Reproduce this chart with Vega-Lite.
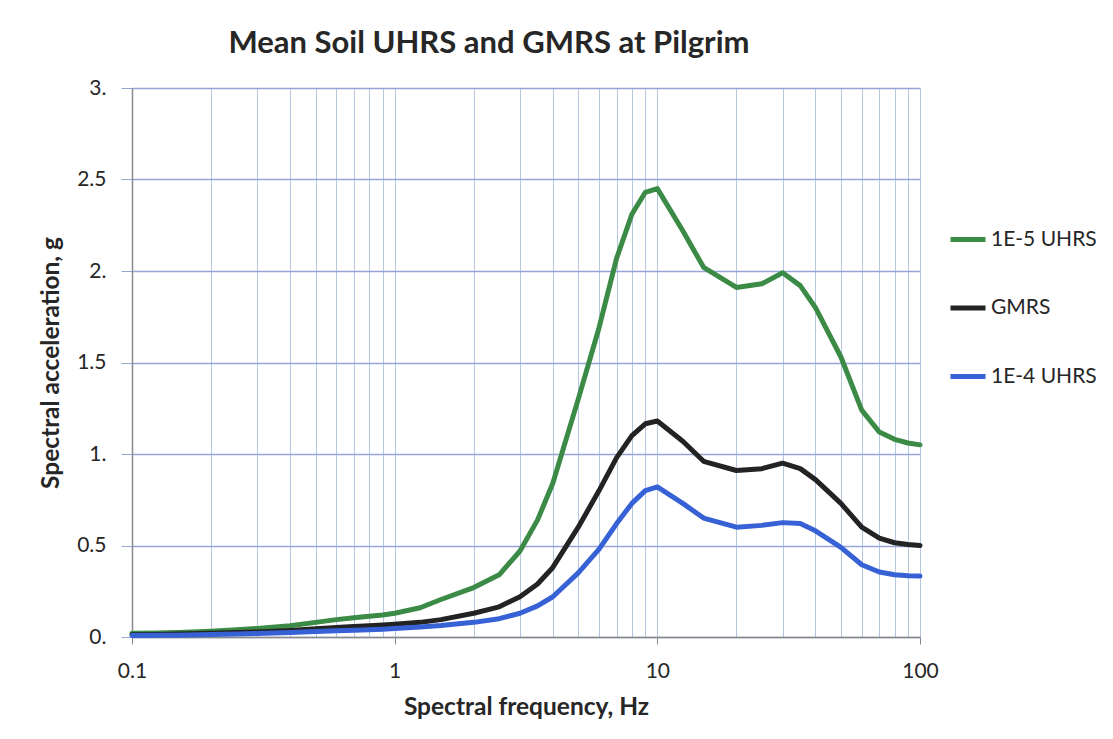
{
  "$schema": "https://vega.github.io/schema/vega-lite/v6.json",
  "autosize": {"type": "none"},
  "padding": {"left": 132, "top": 88, "right": 193, "bottom": 102},
  "width": 788,
  "height": 549,
  "background": "white",
  "config": {
    "font": "Lato",
    "view": {"stroke": null}
  },
  "title": {
    "text": "Mean Soil UHRS and GMRS at Pilgrim",
    "font": "Lato",
    "fontSize": 31,
    "fontWeight": "bold",
    "color": "#262626",
    "anchor": "middle",
    "dx": -37,
    "offset": 17
  },
  "data": {
    "values": [
      {"f": 0.1, "1E-5 UHRS": 0.02, "GMRS": 0.012, "1E-4 UHRS": 0.008},
      {"f": 0.125, "1E-5 UHRS": 0.022, "GMRS": 0.014, "1E-4 UHRS": 0.009},
      {"f": 0.15, "1E-5 UHRS": 0.025, "GMRS": 0.016, "1E-4 UHRS": 0.01},
      {"f": 0.2, "1E-5 UHRS": 0.032, "GMRS": 0.02, "1E-4 UHRS": 0.013},
      {"f": 0.25, "1E-5 UHRS": 0.04, "GMRS": 0.025, "1E-4 UHRS": 0.016},
      {"f": 0.3, "1E-5 UHRS": 0.047, "GMRS": 0.028, "1E-4 UHRS": 0.019},
      {"f": 0.4, "1E-5 UHRS": 0.062, "GMRS": 0.036, "1E-4 UHRS": 0.024},
      {"f": 0.5, "1E-5 UHRS": 0.08, "GMRS": 0.045, "1E-4 UHRS": 0.03},
      {"f": 0.6, "1E-5 UHRS": 0.095, "GMRS": 0.052, "1E-4 UHRS": 0.034},
      {"f": 0.7, "1E-5 UHRS": 0.105, "GMRS": 0.057, "1E-4 UHRS": 0.037},
      {"f": 0.8, "1E-5 UHRS": 0.113, "GMRS": 0.062, "1E-4 UHRS": 0.04},
      {"f": 0.9, "1E-5 UHRS": 0.12, "GMRS": 0.066, "1E-4 UHRS": 0.043},
      {"f": 1, "1E-5 UHRS": 0.13, "GMRS": 0.07, "1E-4 UHRS": 0.046},
      {"f": 1.25, "1E-5 UHRS": 0.16, "GMRS": 0.08, "1E-4 UHRS": 0.055},
      {"f": 1.5, "1E-5 UHRS": 0.205, "GMRS": 0.095, "1E-4 UHRS": 0.063},
      {"f": 2, "1E-5 UHRS": 0.27, "GMRS": 0.13, "1E-4 UHRS": 0.08},
      {"f": 2.5, "1E-5 UHRS": 0.34, "GMRS": 0.165, "1E-4 UHRS": 0.1},
      {"f": 3, "1E-5 UHRS": 0.47, "GMRS": 0.22, "1E-4 UHRS": 0.13},
      {"f": 3.5, "1E-5 UHRS": 0.64, "GMRS": 0.29, "1E-4 UHRS": 0.17},
      {"f": 4, "1E-5 UHRS": 0.84, "GMRS": 0.38, "1E-4 UHRS": 0.22},
      {"f": 5, "1E-5 UHRS": 1.3, "GMRS": 0.6, "1E-4 UHRS": 0.35},
      {"f": 6, "1E-5 UHRS": 1.69, "GMRS": 0.8, "1E-4 UHRS": 0.48},
      {"f": 7, "1E-5 UHRS": 2.07, "GMRS": 0.98, "1E-4 UHRS": 0.62},
      {"f": 8, "1E-5 UHRS": 2.31, "GMRS": 1.1, "1E-4 UHRS": 0.73},
      {"f": 9, "1E-5 UHRS": 2.43, "GMRS": 1.165, "1E-4 UHRS": 0.8},
      {"f": 10, "1E-5 UHRS": 2.45, "GMRS": 1.18, "1E-4 UHRS": 0.82},
      {"f": 12.5, "1E-5 UHRS": 2.22, "GMRS": 1.07, "1E-4 UHRS": 0.73},
      {"f": 15, "1E-5 UHRS": 2.02, "GMRS": 0.96, "1E-4 UHRS": 0.65},
      {"f": 20, "1E-5 UHRS": 1.91, "GMRS": 0.91, "1E-4 UHRS": 0.6},
      {"f": 25, "1E-5 UHRS": 1.93, "GMRS": 0.92, "1E-4 UHRS": 0.61},
      {"f": 30, "1E-5 UHRS": 1.99, "GMRS": 0.95, "1E-4 UHRS": 0.625},
      {"f": 35, "1E-5 UHRS": 1.92, "GMRS": 0.92, "1E-4 UHRS": 0.62},
      {"f": 40, "1E-5 UHRS": 1.8, "GMRS": 0.86, "1E-4 UHRS": 0.58},
      {"f": 50, "1E-5 UHRS": 1.53, "GMRS": 0.73, "1E-4 UHRS": 0.49},
      {"f": 60, "1E-5 UHRS": 1.24, "GMRS": 0.6, "1E-4 UHRS": 0.395},
      {"f": 70, "1E-5 UHRS": 1.12, "GMRS": 0.54, "1E-4 UHRS": 0.355},
      {"f": 80, "1E-5 UHRS": 1.08, "GMRS": 0.515, "1E-4 UHRS": 0.34},
      {"f": 90, "1E-5 UHRS": 1.06, "GMRS": 0.505, "1E-4 UHRS": 0.335},
      {"f": 100, "1E-5 UHRS": 1.05, "GMRS": 0.5, "1E-4 UHRS": 0.333}
    ]
  },
  "transform": [
    {"fold": ["1E-5 UHRS", "GMRS", "1E-4 UHRS"], "as": ["series", "a"]}
  ],
  "mark": {"type": "line", "strokeWidth": 5, "strokeJoin": "round", "strokeCap": "round"},
  "encoding": {
    "x": {
      "field": "f",
      "type": "quantitative",
      "scale": {"type": "log", "domain": [0.1, 100], "nice": false},
      "axis": {
        "title": "Spectral frequency, Hz",
        "titleFont": "Lato",
        "titleFontSize": 24.5,
        "titleFontWeight": "bold",
        "titleColor": "#262626",
        "titlePadding": 14,
        "values": [0.1, 0.2, 0.3, 0.4, 0.5, 0.6, 0.7, 0.8, 0.9, 1, 2, 3, 4, 5, 6, 7, 8, 9, 10, 20, 30, 40, 50, 60, 70, 80, 90, 100],
        "labelExpr": "indexof([0.1, 1, 10, 100], datum.value) >= 0 ? format(datum.value, '~g') : ''",
        "labelFont": "Lato",
        "labelFontSize": 21,
        "labelColor": "#262626",
        "labelPadding": 16,
        "labelFlush": false,
        "labelOverlap": false,
        "tickSize": 7,
        "tickColor": "#8a8a8a",
        "tickOpacity": {"condition": {"test": "indexof([0.1, 1, 10, 100], datum.value) >= 0", "value": 1}, "value": 0},
        "domainColor": "#8a8a8a",
        "domainWidth": 1.5,
        "grid": true,
        "gridColor": "#b4c6e0",
        "gridWidth": 1
      }
    },
    "y": {
      "field": "a",
      "type": "quantitative",
      "scale": {"domain": [0, 3], "nice": false},
      "axis": {
        "title": "Spectral acceleration, g",
        "titleFont": "Lato",
        "titleFontSize": 24.5,
        "titleFontWeight": "bold",
        "titleColor": "#262626",
        "titlePadding": 13,
        "values": [0, 0.5, 1, 1.5, 2, 2.5, 3],
        "labelExpr": "datum.value % 1 === 0 ? format(datum.value, '.0f') + '.' : format(datum.value, '.1f')",
        "labelFont": "Lato",
        "labelFontSize": 21,
        "labelColor": "#262626",
        "labelPadding": 15,
        "tickSize": 11,
        "tickColor": "#97a5d4",
        "domainColor": "#8a8a8a",
        "domainWidth": 1.5,
        "grid": true,
        "gridColor": "#97a5d4",
        "gridWidth": 1.3
      }
    },
    "color": {
      "field": "series",
      "type": "nominal",
      "scale": {"domain": ["1E-5 UHRS", "GMRS", "1E-4 UHRS"], "range": ["#3b8a46", "#232323", "#3762d6"]},
      "legend": {
        "title": null,
        "orient": "none",
        "legendX": 816,
        "legendY": 131.5,
        "symbolType": "stroke",
        "symbolSize": 1225,
        "symbolStrokeWidth": 5,
        "labelFont": "Lato",
        "labelFontSize": 21,
        "labelColor": "#262626",
        "labelOffset": 3,
        "rowPadding": 38.5
      }
    }
  }
}
